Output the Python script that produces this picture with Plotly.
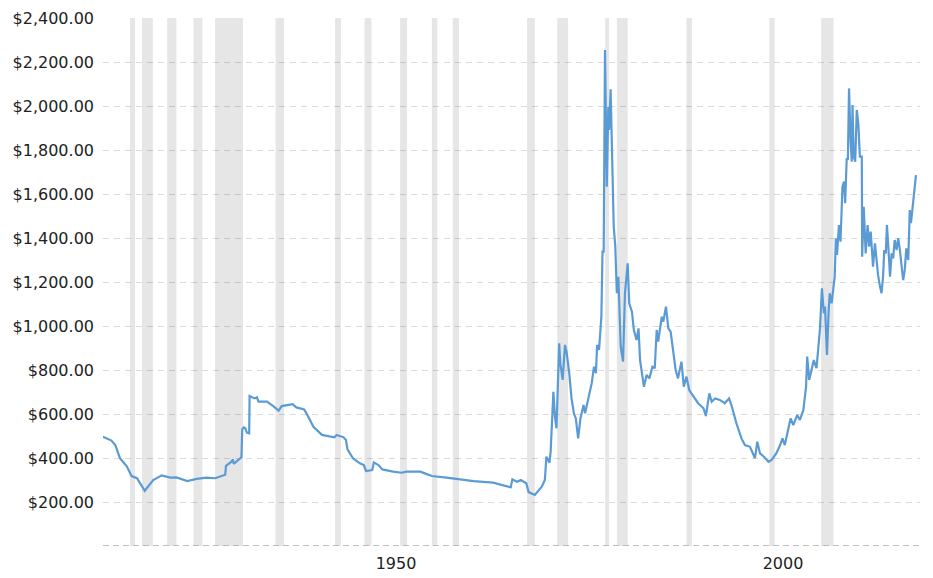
import plotly.graph_objects as go

# Inflation-adjusted gold price (USD / oz)
years = [
    1915.1, 1916.2, 1916.7, 1917.3, 1918.2, 1918.8, 1919.5, 1920.5, 1921.6, 1922.7,
    1923.8, 1924.6, 1926.0, 1927.2, 1928.5, 1929.6, 1930.9, 1931.0, 1931.7, 1931.9,
    1932.0, 1932.8, 1933.0, 1933.1, 1933.3, 1933.5, 1933.7, 1934.0, 1934.05, 1934.7,
    1935.0, 1935.2, 1936.3, 1937.1, 1937.8, 1938.2, 1939.3, 1939.6, 1940.1, 1941.1,
    1941.4, 1942.3, 1943.4, 1944.4, 1945.0, 1945.3, 1946.2, 1946.5, 1946.7, 1947.4,
    1948.3, 1948.8, 1949.1, 1949.9, 1950.1, 1950.7, 1951.2, 1952.6, 1953.7, 1954.3,
    1956.1, 1956.7, 1957.6, 1959.5, 1963.0, 1965.5, 1967.8, 1968.0, 1968.6, 1969.1,
    1969.8, 1970.1, 1970.9, 1971.8, 1972.2, 1972.4, 1972.8, 1972.95, 1973.3, 1973.5,
    1973.7, 1974.05, 1974.2, 1974.5, 1974.8, 1975.0, 1975.35, 1975.65, 1975.95, 1976.2,
    1976.5, 1976.8, 1977.2, 1977.4, 1977.8, 1978.25, 1978.55, 1978.8, 1978.95, 1979.2,
    1979.5, 1979.65, 1979.8, 1979.97, 1980.2, 1980.4, 1980.5, 1980.7, 1980.8, 1981.1,
    1981.3, 1981.5, 1981.7, 1981.9, 1982.0, 1982.3, 1982.55, 1982.9, 1983.1, 1983.45,
    1983.7, 1984.05, 1984.3, 1984.5, 1985.0, 1985.35, 1985.7, 1986.1, 1986.4, 1986.65,
    1986.85, 1987.3, 1987.5, 1987.85, 1988.15, 1988.45, 1988.8, 1989.1, 1989.4, 1989.85,
    1990.15, 1990.5, 1990.85, 1991.4, 1992.0, 1992.7, 1993.0, 1993.45, 1993.75, 1994.2,
    1994.8, 1995.45, 1996.0, 1996.3, 1996.95, 1997.6, 1998.05, 1998.7, 1999.35, 1999.65,
    2000.0, 2000.5, 2001.1, 2001.5, 2002.1, 2002.6, 2002.9, 2003.2, 2003.65, 2003.95,
    2004.3, 2004.8, 2005.15, 2005.6, 2005.95, 2006.1, 2006.35, 2006.65, 2006.95, 2007.3,
    2007.6, 2007.75, 2008.0, 2008.25, 2008.4, 2008.65, 2008.85, 2009.0, 2009.25, 2009.45,
    2009.65, 2009.8, 2009.95, 2010.2, 2010.4, 2010.65, 2010.85, 2011.0, 2011.2, 2011.35,
    2011.5, 2011.7, 2011.85, 2011.95, 2012.1, 2012.3, 2012.5, 2012.7, 2012.9, 2013.15,
    2013.2, 2013.4, 2013.65, 2013.9, 2014.1, 2014.3, 2014.45, 2014.6, 2014.85, 2015.05,
    2015.25, 2015.5, 2015.7, 2015.9, 2016.05, 2016.25, 2016.4, 2016.6, 2016.8, 2017.0,
    2017.2, 2017.4, 2017.65, 2017.85, 2018.05, 2018.3, 2018.5, 2018.7, 2018.9, 2019.15,
    2019.35, 2019.5, 2019.7, 2019.9, 2020.15,
]
prices = [
    497, 479, 459, 399, 361, 318, 308, 251, 300, 321,
    311, 312, 295, 305, 311, 308, 324, 364, 383, 394,
    373, 399, 403, 530, 539, 535, 515, 512, 682, 671,
    676, 656, 656, 636, 615, 636, 641, 645, 630, 621,
    603, 542, 505, 500, 494, 505, 494, 482, 439, 399,
    376, 368, 341, 345, 380, 368, 348, 338, 333, 338,
    338, 330, 318, 311, 295, 288, 267, 303, 292, 300,
    285, 245, 232, 270, 300, 406, 379, 430, 701, 588,
    535, 921, 830, 755, 914, 883, 785, 671, 603, 580,
    489, 580, 641, 603, 671, 739, 815, 785, 914, 891,
    1042, 1338, 1338, 2255, 1633, 1997, 1891, 2076, 1914, 1452,
    1361, 1149, 1224, 1058, 906, 838, 1149, 1285, 1103, 1065,
    982, 936, 989, 845, 724, 777, 762, 815, 808, 982,
    929, 1042, 1020, 1088, 989, 974, 883, 800, 762, 838,
    724, 770, 709, 679, 649, 626, 591, 694, 656, 671,
    664, 649, 671, 641, 558, 489, 459, 451, 399, 474,
    421, 406, 383, 391, 421, 459, 489, 459, 527, 580,
    550, 595, 573, 618, 724, 861, 755, 800, 845, 808,
    921, 989, 1171, 1058, 1088, 868, 1058, 1149, 1103, 1179,
    1224, 1399, 1323, 1459, 1383, 1633, 1656, 1558, 1762, 1755,
    2080, 1845, 1747, 2005, 1770, 1747, 1982, 1921, 1770, 1770,
    1315, 1542, 1330, 1459, 1361, 1429, 1345, 1270, 1376, 1292,
    1232, 1179, 1149, 1224, 1345, 1330, 1459, 1345, 1224, 1330,
    1307, 1391, 1345, 1399, 1353, 1270, 1209, 1255, 1353, 1300,
    1527, 1467, 1542, 1603, 1686,
]

# US recessions (decimal years)
rec_start = [1918.6, 1920.15, 1923.4, 1926.8, 1929.6, 1937.4, 1945.1, 1948.9, 1953.5,
             1957.6, 1960.3, 1969.9, 1973.8, 1980.0, 1981.5, 1990.5, 2001.2, 2007.9]
rec_end = [1919.25, 1921.55, 1924.6, 1927.95, 1933.2, 1938.5, 1945.85, 1949.8, 1954.4,
           1958.3, 1961.1, 1970.9, 1975.2, 1980.5, 1982.9, 1991.2, 2001.9, 2009.5]

y_ticks = [200, 400, 600, 800, 1000, 1200, 1400, 1600, 1800, 2000, 2200, 2400]
x_ticks = [1950, 2000]
x_tick_labels = ["1950", "2000"]

fig = go.Figure()
fig.add_trace(go.Scatter(
    x=years, y=prices, mode="lines",
    line=dict(color="#5b9bd5", width=2.2),
    showlegend=False,
))

for s, e in zip(rec_start, rec_end):
    fig.add_vrect(x0=s, x1=e, fillcolor="#e6e6e6", opacity=1,
                  line_width=0, layer="below")

# dashed baseline at zero
fig.add_shape(type="line", xref="paper", x0=0, x1=1, yref="y", y0=0, y1=0,
              line=dict(color="#aaaaaa", width=1.5, dash="6px,4px"), layer="above")

fig.update_layout(
    width=933, height=578,
    margin=dict(l=103, r=13, t=18, b=32, autoexpand=False),
    plot_bgcolor="white", paper_bgcolor="white",
    font=dict(family="DejaVu Sans, Verdana, sans-serif", size=16, color="#222222"),
    xaxis=dict(
        range=[1915.11, 2020.67], automargin=False,
        showgrid=False, zeroline=False, showline=False,
        tickvals=x_ticks, ticktext=x_tick_labels,
        ticks="", ticklabelshift=23, ticklabelstandoff=6,
    ),
    yaxis=dict(
        range=[0, 2400], automargin=False,
        tickvals=y_ticks, tickformat="$,.2f",
        showgrid=True, gridcolor="rgba(0,0,0,0.14)", gridwidth=1,
        griddash="6px,5px",
        zeroline=False, showline=False, ticks="",
        ticklabelstandoff=8,
    ),
)

# remove the browser's default 8px page margin so the figure fills the window
fig.write_html("out.html", config={"displayModeBar": False},
               post_script="document.body.style.margin='0';")
